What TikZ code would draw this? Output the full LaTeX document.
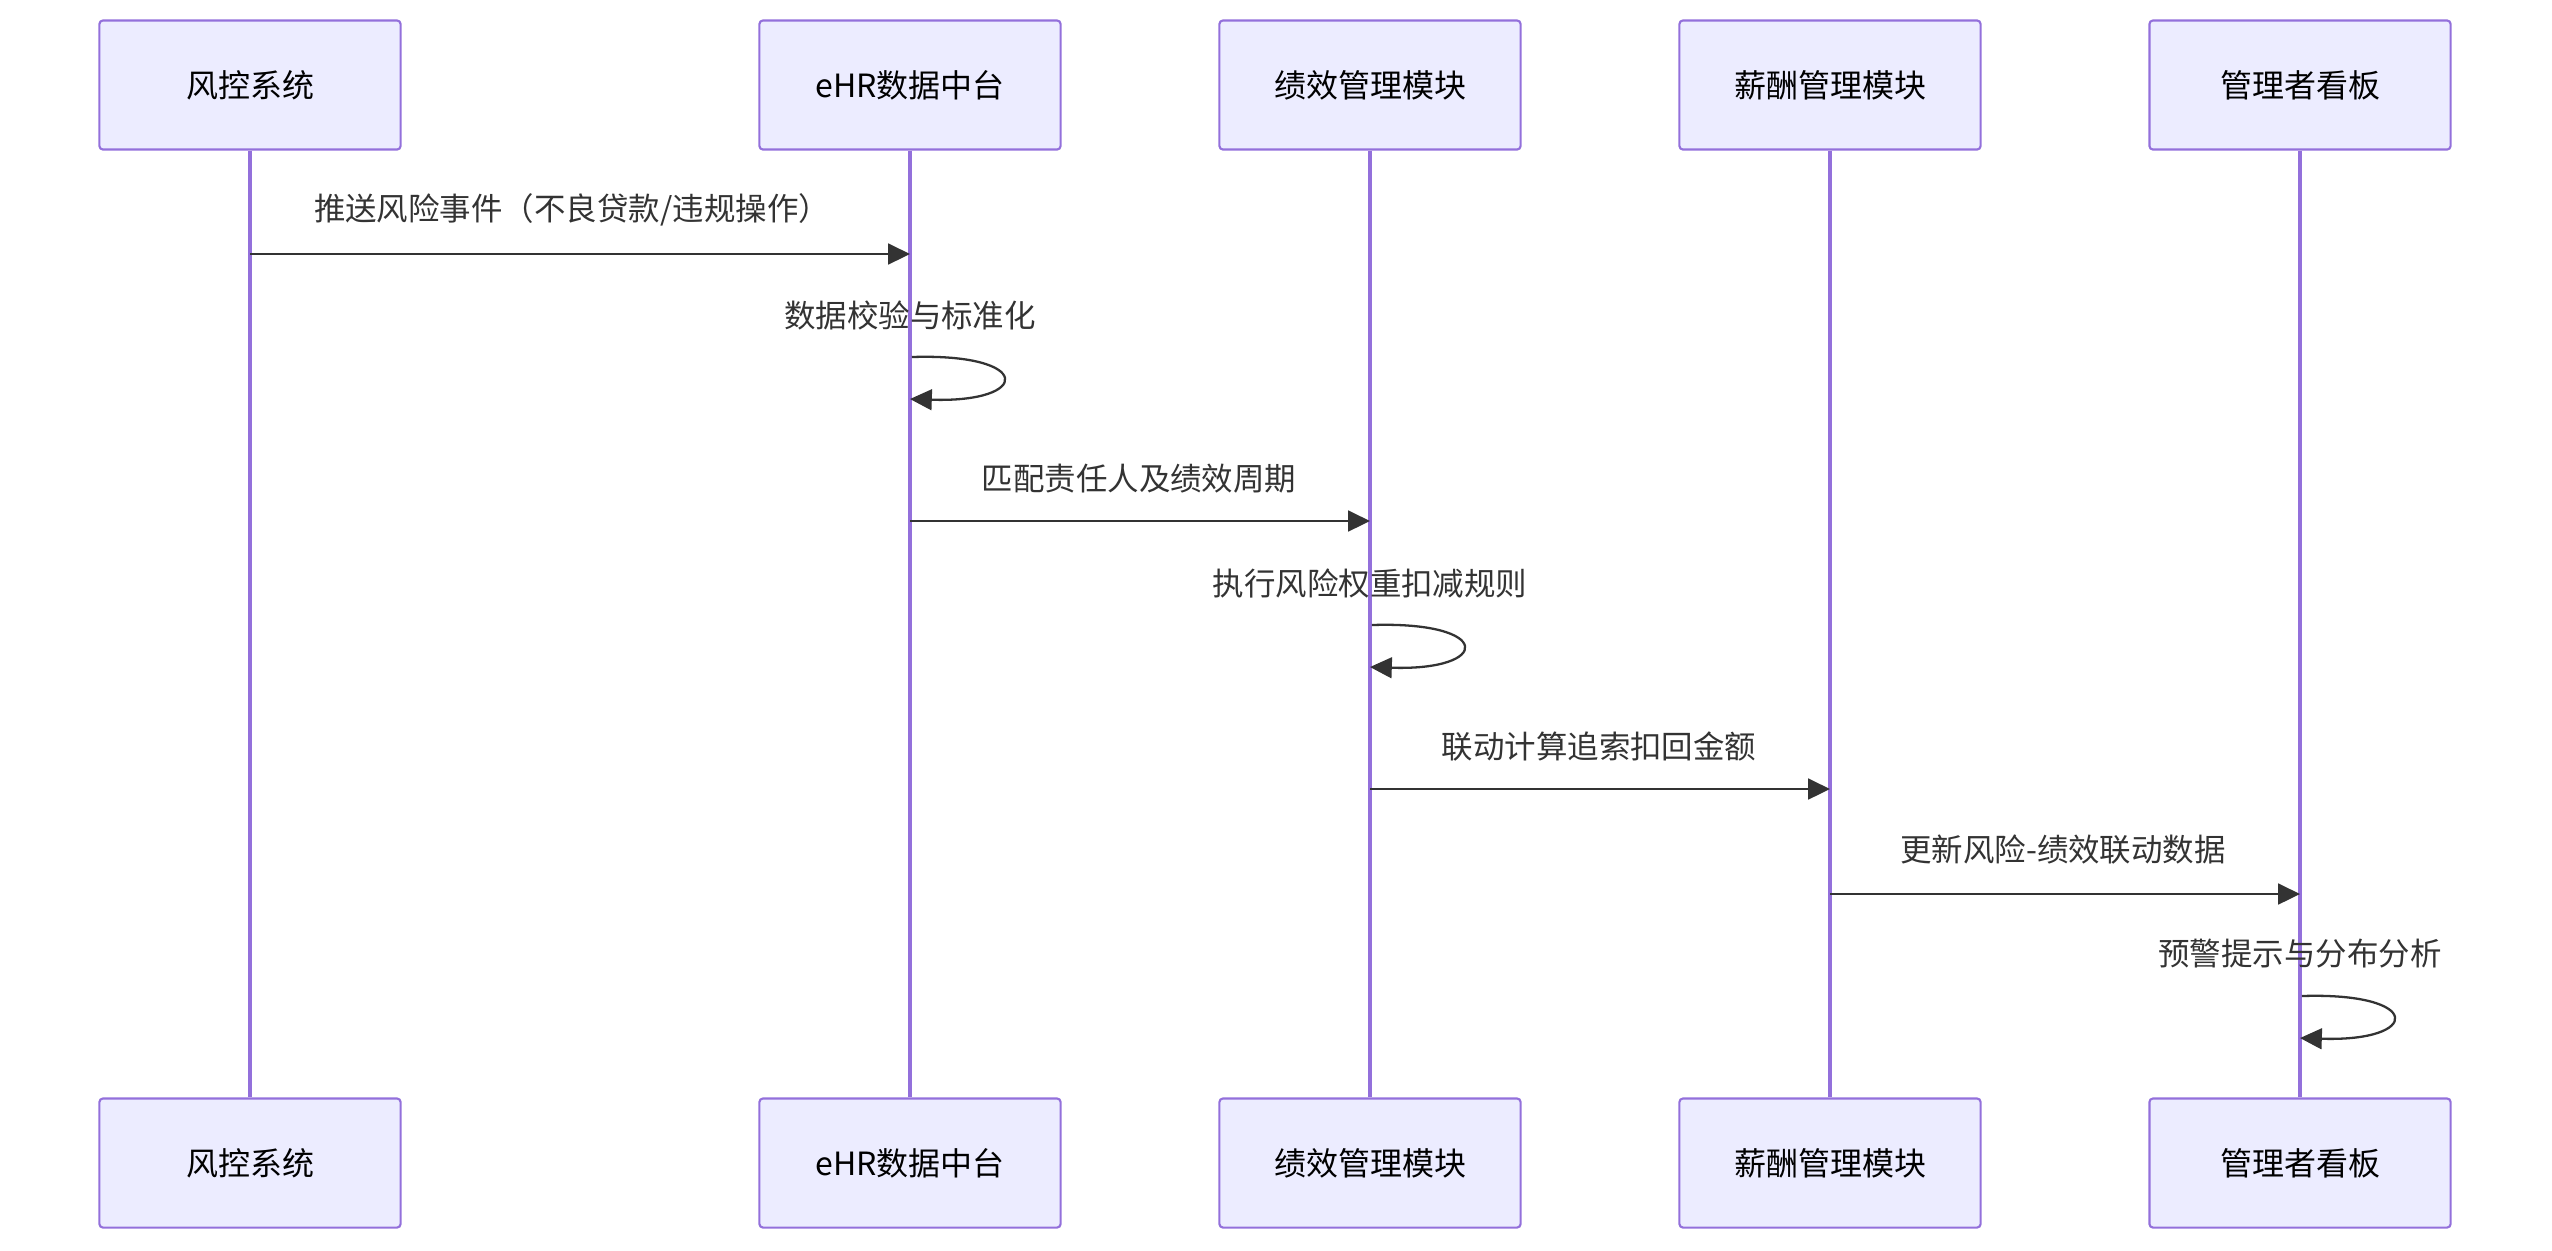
\documentclass[tikz,border=0pt]{standalone}
\usepackage{fontspec}
\setmainfont{Noto Sans CJK SC}
\usetikzlibrary{arrows.meta}
\definecolor{actorfill}{HTML}{ECECFF}
\definecolor{actorline}{HTML}{9370DB}
\definecolor{msgline}{HTML}{333333}

\begin{document}
\begin{tikzpicture}[x=0.01cm, y=-0.01cm,
    actor/.style={draw=actorline, fill=actorfill, line width=0.6pt, rounded corners=1pt,
        minimum width=3.01cm, minimum height=1.29cm, inner sep=0pt, font=\fontsize{9.1}{11}\selectfont},
    lifeline/.style={draw=actorline, line width=0.9pt},
    msg/.style={draw=msgline, line width=0.65pt, -{Triangle[length=6.2pt,width=5.9pt]}},
    msgtext/.style={text=msgline, inner sep=0pt, font=\fontsize{8.95}{11}\selectfont}]
                \useasboundingbox (0,0) rectangle (2552,1250);
                % Actors
                \node[actor] (fk) at (250,85) {风控系统};
                \node[actor] (ehr) at (910,85) {eHR数据中台};
                \node[actor] (jx) at (1370,85) {绩效管理模块};
                \node[actor] (xc) at (1830,85) {薪酬管理模块};
                \node[actor] (gl) at (2300,85) {管理者看板};
                
                \node[actor] (fkb) at (250,1163) {风控系统};
                \node[actor] (ehrb) at (910,1163) {eHR数据中台};
                \node[actor] (jxb) at (1370,1163) {绩效管理模块};
                \node[actor] (xcb) at (1830,1163) {薪酬管理模块};
                \node[actor] (glb) at (2300,1163) {管理者看板};
                
                % Lifelines
                \draw[lifeline] (fk) -- (fkb);
                \draw[lifeline] (ehr) -- (ehrb);
                \draw[lifeline] (jx) -- (jxb);
                \draw[lifeline] (xc) -- (xcb);
                \draw[lifeline] (gl) -- (glb);
                
                % Message heights
                \coordinate (y1) at (0,254);
                \coordinate (y2a) at (0,357); \coordinate (y2b) at (0,399);
                \coordinate (y3) at (0,521);
                \coordinate (y4a) at (0,625); \coordinate (y4b) at (0,667);
                \coordinate (y5) at (0,789);
                \coordinate (y6) at (0,894);
                \coordinate (y7a) at (0,996); \coordinate (y7b) at (0,1038);
                
                % Messages
                \node[msgtext] (t1) at (572,210) {推送风险事件（不良贷款/违规操作）};
                \draw[msg] (fk |- y1) -- (ehr |- y1);
                
                \node[msgtext] (t2) at (910,315) {数据校验与标准化};
                \draw[msg] ([xshift=0.5pt]ehr |- y2a) .. controls +(122,-4) and +(122,4) .. (ehr |- y2b);
                
                \node[msgtext] (t3) at (1139,479) {匹配责任人及绩效周期};
                \draw[msg] (ehr |- y3) -- (jx |- y3);
                
                \node[msgtext] (t4) at (1370,583) {执行风险权重扣减规则};
                \draw[msg] ([xshift=0.5pt]jx |- y4a) .. controls +(122,-4) and +(122,4) .. (jx |- y4b);
                
                \node[msgtext] (t5) at (1599,746) {联动计算追索扣回金额};
                \draw[msg] (jx |- y5) -- (xc |- y5);
                
                \node[msgtext] (t6) at (2063,850) {更新风险-绩效联动数据};
                \draw[msg] (xc |- y6) -- (gl |- y6);
                
                \node[msgtext] (t7) at (2300,954) {预警提示与分布分析};
                \draw[msg] ([xshift=0.5pt]gl |- y7a) .. controls +(122,-4) and +(122,4) .. (gl |- y7b);
\end{tikzpicture}
\end{document}
